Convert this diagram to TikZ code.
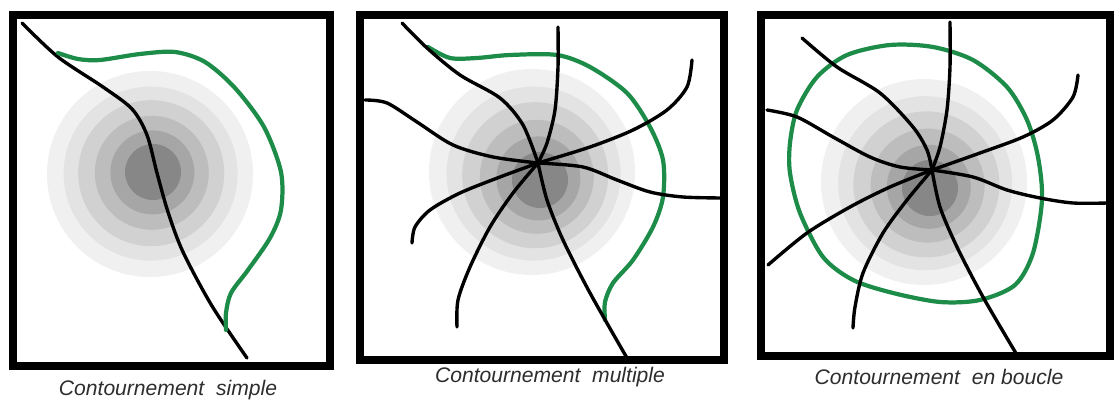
\documentclass[tikz,border=0pt]{standalone}
\usepackage{fontspec}
\setmainfont{Liberation Sans}
\usepackage{xcolor}
\usepackage{tikz}
\usetikzlibrary{shadows}
\definecolor{detourgreen}{RGB}{28,140,72}
\definecolor{captext}{RGB}{45,45,45}
\tikzset{
  panel/.style={draw=black, line width=5.2pt, fill=white,
    drop shadow={opacity=0.25, shadow xshift=1pt, shadow yshift=-2.5pt}},
  road/.style={draw=black, line width=2.4pt, line cap=round},
  bypass/.style={draw=detourgreen, line width=3pt, line cap=round},
  lbl/.style={font=\itshape\fontsize{15}{18}\selectfont, text=captext, inner sep=0pt}
}
% concentric grey disc: outer centre (#1,#2), inner discs drift by (#3,#4)
\newcommand{\haze}[4]{%
  \foreach \r/\k/\t in {103/6/0, 87/11/0.2, 73/18/0.4, 57/26/0.6, 42/35/0.8, 28/47/1}
    \fill[black!\k] ({#1+\t*#3},{#2+\t*#4}) circle[radius=\r];}

\begin{document}
\begin{tikzpicture}[x=0.025cm, y=-0.025cm]
  \useasboundingbox (0,0) rectangle (1114,411);

  % frames
  \path[panel] (13,15) rectangle (330,366);
  \path[panel] (360,15) rectangle (724,360);
  \path[panel] (761,15) rectangle (1110,356);

  % --- simple ---
  \haze{150}{174}{3}{-2}
  \draw[road] plot[smooth] coordinates {(22,23) (58,57) (103,87) (132,109) (147,135)
    (157,173) (168,212) (183,252) (212,306) (247,358)};
  \draw[bypass] plot[smooth] coordinates {(58,53) (78,59) (100,60) (140,54) (175,52)
    (205,62) (235,88) (264,127) (281,172) (281,210) (270,238) (248,270) (231,293)
    (226,313) (226,330)};

  % --- multiple ---
  \haze{532}{172}{8}{8}
  \coordinate (hubB) at (538,163);
  \draw[bypass] plot[smooth] coordinates {(428,47) (450,58) (477,58) (510,55) (557,55)
    (590,67) (627,93) (650,127) (663,160) (663,197) (653,227) (633,260) (613,283)
    (605,302) (605,320)};
  \draw[road] plot[smooth] coordinates {(402,23) (427,48) (460,75) (500,98) (523,125) (hubB)};
  \draw[road] plot[smooth] coordinates {(558,27) (558,67) (555,110) (547,143) (hubB)};
  \draw[road] plot[smooth] coordinates {(692,60) (687,87) (667,110) (633,130) (590,147) (hubB)};
  \draw[road] plot[smooth] coordinates {(hubB) (583,167) (617,180) (650,192) (683,197) (722,198)};
  \draw[road] plot[smooth] coordinates {(hubB) (547,200) (563,240) (590,293) (627,358)};
  \draw[road] plot[smooth] coordinates {(hubB) (513,193) (490,227) (470,267) (458,300) (457,327)};
  \draw[road] plot[smooth] coordinates {(hubB) (500,177) (460,193) (430,210) (415,227) (412,243)};
  \draw[road] plot[smooth] coordinates {(365,100) (387,103) (417,122) (453,145) (493,157) (hubB)};

  % --- en boucle ---
  \haze{924}{182}{6}{6}
  \coordinate (hubC) at (932,170);
  \draw[bypass] plot[smooth cycle] coordinates {(790,143) (797,110) (817,77) (847,55)
    (890,45) (933,47) (973,60) (1007,87) (1027,120) (1038,157) (1042,200) (1033,253)
    (1015,285) (980,300) (940,302) (893,293) (853,280) (823,257) (800,213) (790,173)};
  \draw[road] plot[smooth] coordinates {(802,38) (837,67) (880,93) (913,127) (927,150) (hubC)};
  \draw[road] plot[smooth] coordinates {(950,22) (950,67) (947,110) (940,147) (hubC)};
  \draw[road] plot[smooth] coordinates {(1078,75) (1073,97) (1053,120) (1023,137) (980,153) (hubC)};
  \draw[road] plot[smooth] coordinates {(hubC) (973,177) (1007,190) (1040,198) (1073,203) (1108,203)};
  \draw[road] plot[smooth] coordinates {(hubC) (940,207) (957,247) (983,297) (1017,355)};
  \draw[road] plot[smooth] coordinates {(hubC) (907,200) (883,233) (863,273) (855,307) (853,328)};
  \draw[road] plot[smooth] coordinates {(hubC) (890,187) (850,207) (807,233) (768,265)};
  \draw[road] plot[smooth] coordinates {(767,110) (797,117) (833,137) (870,157) (900,167) (hubC)};

  % captions
  \node[lbl] (capA) at (168,390) {Contournement\ \ simple};
  \node[lbl] (capB) at (550,377) {Contournement\ \ multiple};
  \node[lbl] (capC) at (939,377) {Contournement\ \ en boucle};
\end{tikzpicture}
\end{document}
